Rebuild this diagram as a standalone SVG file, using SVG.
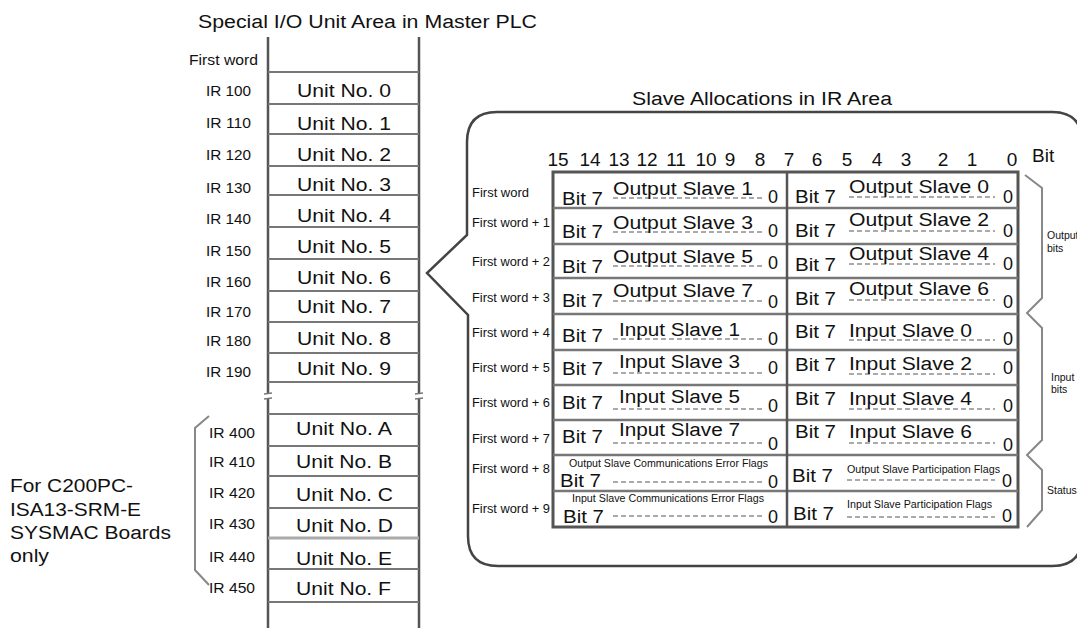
<svg xmlns="http://www.w3.org/2000/svg" width="1077" height="628" viewBox="0 0 1077 628">
<style>
text{font-family:"Liberation Sans",Arial,Helvetica,sans-serif;fill:#111}
.t18{font-size:18px}
.t14{font-size:14px}
.t12{font-size:12px}
.t10{font-size:10px}
.t9{font-size:10.5px}
.num{font-size:19px;text-anchor:middle}
.vline{stroke:#555;stroke-width:2.5;fill:none}
.hline{stroke:#777;stroke-width:2;fill:none}
.tline{stroke:#777;stroke-width:2.5;fill:none}
.dash{stroke:#aaa;stroke-width:2;stroke-dasharray:5 3;fill:none}
.brace{stroke:#888;stroke-width:2;fill:none}
</style>
<rect width="1077" height="628" fill="#fff"/>

<!-- Titles -->
<text class="t18" x="198" y="28" textLength="339" lengthAdjust="spacingAndGlyphs">Special I/O Unit Area in Master PLC</text>

<!-- Left column (Special I/O Unit Area) -->
<g id="master-area">
  <line class="vline" x1="268" y1="37" x2="268" y2="628"/>
  <line class="vline" x1="419" y1="37" x2="419" y2="628"/>
  <g class="hline">
    <line x1="268" y1="72" x2="419" y2="72"/>
    <line x1="268" y1="104" x2="419" y2="104"/>
    <line x1="268" y1="134" x2="419" y2="134"/>
    <line x1="268" y1="166" x2="419" y2="166"/>
    <line x1="268" y1="195" x2="419" y2="195"/>
    <line x1="268" y1="227" x2="419" y2="227"/>
    <line x1="268" y1="259" x2="419" y2="259"/>
    <line x1="268" y1="291" x2="419" y2="291"/>
    <line x1="268" y1="322" x2="419" y2="322"/>
    <line x1="268" y1="353" x2="419" y2="353"/>
    <line x1="268" y1="382" x2="419" y2="382"/>
    <line x1="268" y1="414" x2="419" y2="414"/>
    <line x1="268" y1="446" x2="419" y2="446"/>
    <line x1="268" y1="476" x2="419" y2="476"/>
    <line x1="268" y1="508" x2="419" y2="508"/>
    <line x1="268" y1="538" x2="419" y2="538" stroke="#aaa" stroke-width="3"/>
    <line x1="268" y1="569" x2="419" y2="569"/>
    <line x1="268" y1="602" x2="419" y2="602"/>
  </g>
  <!-- break marks -->
  <rect x="264" y="394" width="8" height="4" fill="#fff"/>
  <rect x="415" y="394" width="8" height="4" fill="#fff"/>
  <g stroke="#777" stroke-width="1.5">
    <line x1="264" y1="394" x2="272" y2="393"/>
    <line x1="264" y1="399" x2="272" y2="398"/>
    <line x1="415" y1="394" x2="423" y2="393"/>
    <line x1="415" y1="399" x2="423" y2="398"/>
  </g>
  <text class="t14" x="189" y="65" textLength="69" lengthAdjust="spacingAndGlyphs">First word</text>
</g>

<g id="unit-0"><text class="t14" x="206" y="96" textLength="45" lengthAdjust="spacingAndGlyphs">IR 100</text><text class="t18" x="297" y="97" textLength="94" lengthAdjust="spacingAndGlyphs">Unit No. 0</text></g>
<g id="unit-1"><text class="t14" x="206" y="128" textLength="45" lengthAdjust="spacingAndGlyphs">IR 110</text><text class="t18" x="297" y="130" textLength="94" lengthAdjust="spacingAndGlyphs">Unit No. 1</text></g>
<g id="unit-2"><text class="t14" x="206" y="160" textLength="45" lengthAdjust="spacingAndGlyphs">IR 120</text><text class="t18" x="297" y="161" textLength="94" lengthAdjust="spacingAndGlyphs">Unit No. 2</text></g>
<g id="unit-3"><text class="t14" x="206" y="193" textLength="45" lengthAdjust="spacingAndGlyphs">IR 130</text><text class="t18" x="297" y="191" textLength="94" lengthAdjust="spacingAndGlyphs">Unit No. 3</text></g>
<g id="unit-4"><text class="t14" x="206" y="224" textLength="45" lengthAdjust="spacingAndGlyphs">IR 140</text><text class="t18" x="297" y="222" textLength="94" lengthAdjust="spacingAndGlyphs">Unit No. 4</text></g>
<g id="unit-5"><text class="t14" x="206" y="256" textLength="45" lengthAdjust="spacingAndGlyphs">IR 150</text><text class="t18" x="297" y="253" textLength="94" lengthAdjust="spacingAndGlyphs">Unit No. 5</text></g>
<g id="unit-6"><text class="t14" x="206" y="287" textLength="45" lengthAdjust="spacingAndGlyphs">IR 160</text><text class="t18" x="297" y="284" textLength="94" lengthAdjust="spacingAndGlyphs">Unit No. 6</text></g>
<g id="unit-7"><text class="t14" x="206" y="317" textLength="45" lengthAdjust="spacingAndGlyphs">IR 170</text><text class="t18" x="297" y="313" textLength="94" lengthAdjust="spacingAndGlyphs">Unit No. 7</text></g>
<g id="unit-8"><text class="t14" x="206" y="346" textLength="45" lengthAdjust="spacingAndGlyphs">IR 180</text><text class="t18" x="297" y="345" textLength="94" lengthAdjust="spacingAndGlyphs">Unit No. 8</text></g>
<g id="unit-9"><text class="t14" x="206" y="377" textLength="45" lengthAdjust="spacingAndGlyphs">IR 190</text><text class="t18" x="297" y="375" textLength="94" lengthAdjust="spacingAndGlyphs">Unit No. 9</text></g>
<g id="unit-A"><text class="t14" x="209" y="438" textLength="46" lengthAdjust="spacingAndGlyphs">IR 400</text><text class="t18" x="296" y="435" textLength="96" lengthAdjust="spacingAndGlyphs">Unit No. A</text></g>
<g id="unit-B"><text class="t14" x="209" y="467" textLength="46" lengthAdjust="spacingAndGlyphs">IR 410</text><text class="t18" x="296" y="468" textLength="96" lengthAdjust="spacingAndGlyphs">Unit No. B</text></g>
<g id="unit-C"><text class="t14" x="209" y="498" textLength="46" lengthAdjust="spacingAndGlyphs">IR 420</text><text class="t18" x="296" y="501" textLength="97" lengthAdjust="spacingAndGlyphs">Unit No. C</text></g>
<g id="unit-D"><text class="t14" x="209" y="529" textLength="46" lengthAdjust="spacingAndGlyphs">IR 430</text><text class="t18" x="296" y="532" textLength="97" lengthAdjust="spacingAndGlyphs">Unit No. D</text></g>
<g id="unit-E"><text class="t14" x="209" y="562" textLength="46" lengthAdjust="spacingAndGlyphs">IR 440</text><text class="t18" x="296" y="565" textLength="96" lengthAdjust="spacingAndGlyphs">Unit No. E</text></g>
<g id="unit-F"><text class="t14" x="209" y="593" textLength="46" lengthAdjust="spacingAndGlyphs">IR 450</text><text class="t18" x="296" y="595" textLength="95" lengthAdjust="spacingAndGlyphs">Unit No. F</text></g>

<!-- Note for boards -->
<g id="board-note">
  <path class="brace" d="M209,416 L195,428 L195,570 L209,585"/>
  <text class="t18" x="10" y="492" textLength="123" lengthAdjust="spacingAndGlyphs">For C200PC-</text>
  <text class="t18" x="10" y="516" textLength="131" lengthAdjust="spacingAndGlyphs">ISA13-SRM-E</text>
  <text class="t18" x="10" y="539" textLength="161" lengthAdjust="spacingAndGlyphs">SYSMAC Boards</text>
  <text class="t18" x="10" y="562" textLength="39" lengthAdjust="spacingAndGlyphs">only</text>
</g>

<!-- Callout -->
<g id="connectors">
  <path d="M497,112 L1052,112 Q1082,112 1082,142 L1082,536 Q1082,566 1052,566 L498,566 Q468,566 468,536 L468,315 L427,273 L467,235 L467,142 Q467,112 497,112 Z" fill="#fff" stroke="#444" stroke-width="2.5"/>
</g>

<g id="slave-allocations">
  <text class="t18" x="632" y="105" textLength="260" lengthAdjust="spacingAndGlyphs">Slave Allocations in IR Area</text>
  <!-- bit numbers -->
  <g class="num">
    <text x="558" y="166">15</text><text x="590" y="166">14</text><text x="619" y="166">13</text>
    <text x="647" y="166">12</text><text x="676" y="166">11</text><text x="706" y="166">10</text>
    <text x="730" y="166">9</text><text x="760" y="166">8</text><text x="789" y="166">7</text>
    <text x="817" y="166">6</text><text x="847" y="166">5</text><text x="877" y="166">4</text>
    <text x="906" y="166">3</text><text x="943" y="166">2</text><text x="972" y="166">1</text>
    <text x="1012" y="166">0</text>
  </g>
  <text x="1032" y="162" style="font-size:19px">Bit</text>

  <!-- table -->
  <rect x="553" y="172" width="465" height="355" fill="#fff" stroke="#555" stroke-width="3"/>
  <g class="tline">
    <line x1="553" y1="208" x2="1018" y2="208"/>
    <line x1="553" y1="244" x2="1018" y2="244"/>
    <line x1="553" y1="278" x2="1018" y2="278"/>
    <line x1="553" y1="314" x2="1018" y2="314"/>
    <line x1="553" y1="350" x2="1018" y2="350"/>
    <line x1="553" y1="385" x2="1018" y2="385"/>
    <line x1="553" y1="420" x2="1018" y2="420"/>
    <line x1="553" y1="455" x2="1018" y2="455"/>
    <line x1="553" y1="491" x2="1018" y2="491"/>
  </g>
  <line x1="787" y1="172" x2="787" y2="527" stroke="#555" stroke-width="2.5"/>

  <!-- dashed lines -->
  <g class="dash">
    <line x1="613" y1="198" x2="762" y2="198"/><line x1="849" y1="197" x2="995" y2="197"/>
    <line x1="613" y1="232" x2="762" y2="232"/><line x1="849" y1="231" x2="995" y2="231"/>
    <line x1="613" y1="266" x2="762" y2="266"/><line x1="849" y1="264" x2="995" y2="264"/>
    <line x1="613" y1="301" x2="762" y2="301"/><line x1="849" y1="300" x2="995" y2="300"/>
    <line x1="613" y1="339" x2="762" y2="339"/><line x1="849" y1="340" x2="995" y2="340"/>
    <line x1="613" y1="373" x2="762" y2="373"/><line x1="849" y1="374" x2="995" y2="374"/>
    <line x1="613" y1="409" x2="762" y2="409"/><line x1="849" y1="409" x2="995" y2="409"/>
    <line x1="613" y1="443" x2="762" y2="443"/><line x1="849" y1="443" x2="995" y2="443"/>
    <line x1="613" y1="482" x2="762" y2="482"/><line x1="847" y1="480" x2="995" y2="480"/>
    <line x1="613" y1="516" x2="762" y2="516"/><line x1="847" y1="517" x2="995" y2="517"/>
  </g>

  <!-- word labels -->
  <g class="t12">
    <text x="472" y="197" textLength="57" lengthAdjust="spacingAndGlyphs">First word</text>
    <text x="472" y="227" textLength="78" lengthAdjust="spacingAndGlyphs">First word + 1</text>
    <text x="472" y="266" textLength="78" lengthAdjust="spacingAndGlyphs">First word + 2</text>
    <text x="472" y="302" textLength="78" lengthAdjust="spacingAndGlyphs">First word + 3</text>
    <text x="472" y="337" textLength="78" lengthAdjust="spacingAndGlyphs">First word + 4</text>
    <text x="472" y="372" textLength="78" lengthAdjust="spacingAndGlyphs">First word + 5</text>
    <text x="472" y="407" textLength="78" lengthAdjust="spacingAndGlyphs">First word + 6</text>
    <text x="472" y="443" textLength="78" lengthAdjust="spacingAndGlyphs">First word + 7</text>
    <text x="472" y="473" textLength="78" lengthAdjust="spacingAndGlyphs">First word + 8</text>
    <text x="472" y="513" textLength="78" lengthAdjust="spacingAndGlyphs">First word + 9</text>
  </g>

  <!-- row contents -->
  <g class="t18">
    <text x="562" y="205" textLength="41" lengthAdjust="spacingAndGlyphs">Bit 7</text>
    <text x="613" y="195" textLength="140" lengthAdjust="spacingAndGlyphs">Output Slave 1</text>
    <text x="768" y="203">0</text>
    <text x="795" y="203" textLength="41" lengthAdjust="spacingAndGlyphs">Bit 7</text>
    <text x="849" y="193" textLength="140" lengthAdjust="spacingAndGlyphs">Output Slave 0</text>
    <text x="1003" y="203">0</text>

    <text x="562" y="238" textLength="41" lengthAdjust="spacingAndGlyphs">Bit 7</text>
    <text x="613" y="229" textLength="140" lengthAdjust="spacingAndGlyphs">Output Slave 3</text>
    <text x="768" y="237">0</text>
    <text x="795" y="237" textLength="41" lengthAdjust="spacingAndGlyphs">Bit 7</text>
    <text x="849" y="226" textLength="140" lengthAdjust="spacingAndGlyphs">Output Slave 2</text>
    <text x="1003" y="237">0</text>

    <text x="562" y="273" textLength="41" lengthAdjust="spacingAndGlyphs">Bit 7</text>
    <text x="613" y="263" textLength="140" lengthAdjust="spacingAndGlyphs">Output Slave 5</text>
    <text x="768" y="269">0</text>
    <text x="795" y="271" textLength="41" lengthAdjust="spacingAndGlyphs">Bit 7</text>
    <text x="849" y="260" textLength="140" lengthAdjust="spacingAndGlyphs">Output Slave 4</text>
    <text x="1003" y="270">0</text>

    <text x="562" y="307" textLength="41" lengthAdjust="spacingAndGlyphs">Bit 7</text>
    <text x="613" y="297" textLength="140" lengthAdjust="spacingAndGlyphs">Output Slave 7</text>
    <text x="768" y="308">0</text>
    <text x="795" y="305" textLength="41" lengthAdjust="spacingAndGlyphs">Bit 7</text>
    <text x="849" y="295" textLength="140" lengthAdjust="spacingAndGlyphs">Output Slave 6</text>
    <text x="1003" y="308">0</text>

    <text x="562" y="342" textLength="41" lengthAdjust="spacingAndGlyphs">Bit 7</text>
    <text x="619" y="336" textLength="121" lengthAdjust="spacingAndGlyphs">Input Slave 1</text>
    <text x="768" y="345">0</text>
    <text x="795" y="338" textLength="41" lengthAdjust="spacingAndGlyphs">Bit 7</text>
    <text x="849" y="337" textLength="123" lengthAdjust="spacingAndGlyphs">Input Slave 0</text>
    <text x="1003" y="345">0</text>

    <text x="562" y="375" textLength="41" lengthAdjust="spacingAndGlyphs">Bit 7</text>
    <text x="619" y="368" textLength="121" lengthAdjust="spacingAndGlyphs">Input Slave 3</text>
    <text x="768" y="374">0</text>
    <text x="795" y="371" textLength="41" lengthAdjust="spacingAndGlyphs">Bit 7</text>
    <text x="849" y="370" textLength="123" lengthAdjust="spacingAndGlyphs">Input Slave 2</text>
    <text x="1003" y="374">0</text>

    <text x="562" y="409" textLength="41" lengthAdjust="spacingAndGlyphs">Bit 7</text>
    <text x="619" y="403" textLength="121" lengthAdjust="spacingAndGlyphs">Input Slave 5</text>
    <text x="768" y="412">0</text>
    <text x="795" y="405" textLength="41" lengthAdjust="spacingAndGlyphs">Bit 7</text>
    <text x="849" y="405" textLength="123" lengthAdjust="spacingAndGlyphs">Input Slave 4</text>
    <text x="1003" y="412">0</text>

    <text x="562" y="443" textLength="41" lengthAdjust="spacingAndGlyphs">Bit 7</text>
    <text x="619" y="436" textLength="121" lengthAdjust="spacingAndGlyphs">Input Slave 7</text>
    <text x="768" y="450">0</text>
    <text x="795" y="438" textLength="41" lengthAdjust="spacingAndGlyphs">Bit 7</text>
    <text x="849" y="438" textLength="123" lengthAdjust="spacingAndGlyphs">Input Slave 6</text>
    <text x="1003" y="451">0</text>

    <text x="560" y="487" textLength="41" lengthAdjust="spacingAndGlyphs">Bit 7</text>
    <text x="768" y="488">0</text>
    <text x="792" y="482" textLength="41" lengthAdjust="spacingAndGlyphs">Bit 7</text>
    <text x="1002" y="487">0</text>

    <text x="563" y="523" textLength="41" lengthAdjust="spacingAndGlyphs">Bit 7</text>
    <text x="768" y="523">0</text>
    <text x="793" y="520" textLength="41" lengthAdjust="spacingAndGlyphs">Bit 7</text>
    <text x="1002" y="522">0</text>
  </g>
  <g class="t10">
    <text x="569" y="467" textLength="199" lengthAdjust="spacingAndGlyphs">Output Slave Communications Error Flags</text>
    <text x="572" y="502" textLength="192" lengthAdjust="spacingAndGlyphs">Input Slave Communications Error Flags</text>
    <text x="847" y="473" textLength="153" lengthAdjust="spacingAndGlyphs">Output Slave Participation Flags</text>
    <text x="847" y="508" textLength="145" lengthAdjust="spacingAndGlyphs">Input Slave Participation Flags</text>
  </g>

  <!-- right braces -->
  <path class="brace" d="M1025,175 L1042,188 L1042,298 L1027,313 L1042,328 L1042,440 L1027,455 L1042,470 L1042,510 L1027,527"/>
  <g class="t9">
    <text x="1047" y="239">Output</text>
    <text x="1047" y="252">bits</text>
    <text x="1051" y="381">Input</text>
    <text x="1051" y="393">bits</text>
    <text x="1047" y="494">Status</text>
  </g>
</g>
</svg>
